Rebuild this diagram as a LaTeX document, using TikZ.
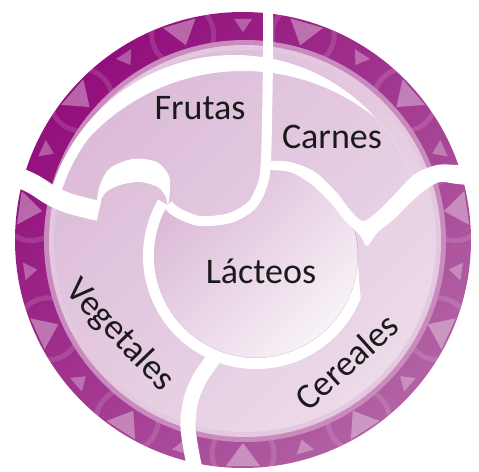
\documentclass[tikz,border=0pt]{standalone}
\usepackage{fontspec}
\setmainfont{Carlito}
\definecolor{ringDark}{HTML}{920E7C}
\definecolor{ringLight}{HTML}{B262A4}
\definecolor{rimPink}{HTML}{C98BBE}
\definecolor{rimPale}{HTML}{E4C8E0}
\definecolor{diskTop}{HTML}{DCBBD8}
\definecolor{diskBottom}{HTML}{ECDAE9}
\definecolor{milkTop}{HTML}{DAB8D6}
\definecolor{milkBottom}{HTML}{F8F2F7}
\definecolor{milkEdge}{HTML}{D2A6CB}
\definecolor{textInk}{HTML}{1A1A1A}
\usepackage{tikz}

\begin{document}
\begin{tikzpicture}[x=1pt, y=1pt,
    whitegap/.style={draw=white, line width=#1, line cap=butt},
    foodlabel/.style={text=textInk, font=\fontsize{36}{40}\selectfont, inner sep=0pt}]
  \useasboundingbox (-243,-231) rectangle (236,240);
  % outer ring with its pattern
  \shade[top color=ringDark, bottom color=ringLight, shading angle=45] (0,0) circle[radius=228];
  \begin{scope}
    \clip (0,0) circle[radius=228];
    \foreach \i in {1,3,...,21} {
      \begin{scope}[shift={({90+\i*360/22}:214)}, rotate={90+\i*360/22}]
        \draw[white, opacity=0.13, line width=5] (0,0) circle[radius=31];
        \fill[white, opacity=0.35] (-11,0) -- (12,17) -- (12,-17) -- cycle;
      \end{scope}
    }
    \foreach \i in {0,2,...,20} {
      \begin{scope}[shift={({90+\i*360/22}:214)}, rotate={90+\i*360/22}]
        \fill[white, opacity=0.3] (-6,0) -- (7,9) -- (7,-9) -- cycle;
      \end{scope}
    }
  \end{scope}
  % rim and disk
  \fill[rimPink] (2,-1) circle[radius=201];
  \fill[rimPale] (2,-1) circle[radius=196];
  \shade[top color=diskTop, bottom color=diskBottom, shading angle=45] (2,-1) circle[radius=191];
  % centre piece
  \begin{scope}
    \clip (-130,35) -- plot[smooth] coordinates {(-75,35) (-65,27) (-43,19) (-13,22) (9,35) (20,57) (23,72)}
      -- plot[smooth] coordinates {(47,68) (68,56) (87,38) (103,18) (115,4) (123,-4)}
      -- (160,-4) -- (160,-200) -- (-130,-200) -- cycle;
    \shade[top color=milkTop, bottom color=milkBottom, shading angle=45] (13,-16) circle[radius=102];
    \draw[milkEdge, line width=0.6] (13,-16) circle[radius=102];
  \end{scope}
  % white gaps between the pieces
  \begin{scope}
    \clip (-9,-6) circle[radius=191];
    \clip (-240,45) rectangle (240,240);
    \fill[white, even odd rule] (-9,-6) circle[radius=191] (0,-42) circle[radius=211];
    \draw[whitegap=10] (-9,-6) ++(130:186) arc[start angle=130, end angle=165, radius=186];
  \end{scope}
  \draw[whitegap=10] plot[smooth] coordinates {(25,240) (25,180) (24,120) (23,80) (20,57) (9,35) (-13,22) (-43,19) (-65,27) (-75,35)};
  \fill[white] plot[smooth] coordinates {(23,79) (47,78) (72,68) (94,47) (107,30) (120,19) (134,28) (152,46) (172,66) (194,75) (214,75) (239,73)}
    -- plot[smooth] coordinates {(239,54) (214,56) (197,58) (182,50) (167,37) (150,20) (135,8) (124,-6) (117,5) (103,18) (87,38) (68,56) (47,68) (23,70)} -- cycle;
  \draw[whitegap=20] plot[smooth] coordinates {(-232,66) (-210,56) (-191,44) (-172,36) (-144,29)};
  \fill[white] plot[smooth] coordinates {(-146,40) (-143,55) (-133,72) (-110,81) (-86,78) (-74,64) (-73,50) (-75,33)}
    -- plot[smooth] coordinates {(-77,43) (-85,53) (-103,58) (-123,55) (-137,48) (-143,38)} -- cycle;
  \begin{scope}[shift={(13,-16)}]
    \fill[white] (150:102) arc[start angle=150, end angle=358, radius=102]
      .. controls (350:104) .. (338:113) arc[start angle=338, end angle=150, radius=113] -- cycle;
  \end{scope}
  \draw[whitegap=15] plot[smooth] coordinates {(-29,-118) (-43,-138) (-52,-160) (-55,-187) (-50,-220) (-45,-240)};
  % labels
  \node[foodlabel, anchor=base] (frutas) at (-43,120) {Frutas};
  \node[foodlabel, anchor=base] (carnes) at (89,91) {Carnes};
  \node[foodlabel, anchor=base] (lacteos) at (18,-43) {Lácteos};
  \node[foodlabel, anchor=base, rotate=-46] (vegetales) at (-130,-102) {Vegetales};
  \node[foodlabel, anchor=base, rotate=42] (cereales) at (112,-131) {Cereales};
\end{tikzpicture}
\end{document}
